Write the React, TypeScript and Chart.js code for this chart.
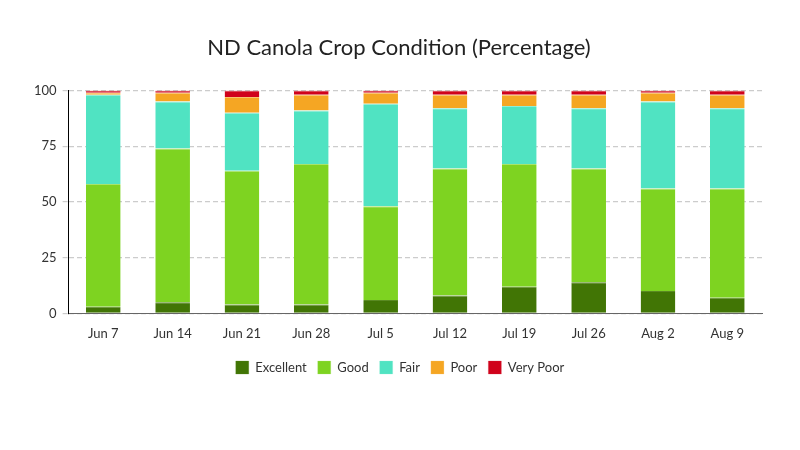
import React, { useEffect, useRef } from "react";
import { Chart, registerables } from "chart.js";

Chart.register(...registerables);

const categories = ["Jun 7", "Jun 14", "Jun 21", "Jun 28", "Jul 5", "Jul 12", "Jul 19", "Jul 26", "Aug 2", "Aug 9"];
const excellent = [3, 5, 4, 4, 6, 8, 12, 14, 10, 7];
const good = [55, 69, 60, 63, 42, 57, 55, 51, 46, 49];
const fair = [40, 21, 26, 24, 46, 27, 26, 27, 39, 36];
const poor = [1, 4, 7, 7, 5, 6, 5, 6, 4, 6];
const veryPoor = [1, 1, 3, 2, 1, 2, 2, 2, 1, 2];
const yTicks = [0, 25, 50, 75, 100];

const FONT = "Lato, 'Noto Sans', sans-serif";

const centerBoxes = {
  id: "centerBoxes",
  afterLayout(chart: any) {
    const lg = chart.legend;
    if (lg) {
      lg.left += 5;
      lg.right += 5;
    }
    const t = chart.titleBlock;
    if (t) {
      t.left += 4;
      t.right += 4;
    }
  },
};

export default function App() {
  const ref = useRef<HTMLCanvasElement | null>(null);
  useEffect(() => {
    document.body.style.margin = "0";
    if (!ref.current) return;
    const mk = (label: string, data: number[], bg: string, bc: string) => ({
      label,
      data,
      backgroundColor: bg,
      borderColor: bc,
      borderWidth: { top: 1, left: 0, right: 0, bottom: 0 },
      borderSkipped: false as const,
      barPercentage: 0.5,
      categoryPercentage: 1,
    });
    const chart = new Chart(ref.current, {
      type: "bar",
      data: {
        labels: categories,
        datasets: [
          mk("Excellent", excellent, "#417505", "#5a8a22"),
          mk("Good", good, "#7ed321", "#a8e36a"),
          mk("Fair", fair, "#50e3c2", "#8eeed8"),
          mk("Poor", poor, "#f5a623", "#f8c46e"),
          mk("Very Poor", veryPoor, "#d0021b", "#d8303f"),
        ],
      },
      plugins: [centerBoxes],
      options: {
        animation: false,
        responsive: false,
        maintainAspectRatio: false,
        layout: { padding: { top: 29, left: 28, right: 38, bottom: 66 } },
        plugins: {
          title: {
            display: true,
            text: "ND Canola Crop Condition (Percentage)",
            color: "#222",
            font: { family: FONT, size: 22, weight: "normal" },
            padding: { top: 6, bottom: 29 },
          },
          legend: {
            position: "bottom",
            labels: {
              color: "#333",
              font: { family: FONT, size: 13 },
              boxWidth: 13,
              boxHeight: 13,
              padding: 11,
            },
          },
          tooltip: { enabled: false },
        },
        scales: {
          x: {
            stacked: true,
            grid: { display: false },
            border: { display: true, color: "#666", width: 1 },
            ticks: { color: "#333", font: { family: FONT, size: 13 }, padding: 5 },
            afterFit: (axis: any) => {
              axis.height += 3;
            },
          },
          y: {
            stacked: true,
            min: 0,
            max: 100,
            afterBuildTicks: (axis: any) => {
              axis.ticks = yTicks.map((v) => ({ value: v }));
            },
            grid: { color: "#ccc", lineWidth: 1.2, tickLength: 6, drawTicks: true, tickBorderDash: [5, 3] },
            border: { display: true, color: "#000", width: 1, dash: [5, 3] },
            ticks: { color: "#333", font: { family: FONT, size: 13 }, padding: 6 },
          },
        },
      },
    });
    return () => chart.destroy();
  }, []);
  return (
    <div style={{ position: "fixed", left: 0, top: 0, width: 800, height: 450, background: "#fff" }}>
      <canvas ref={ref} width={800} height={450} style={{ width: 800, height: 450 }} />
    </div>
  );
}
